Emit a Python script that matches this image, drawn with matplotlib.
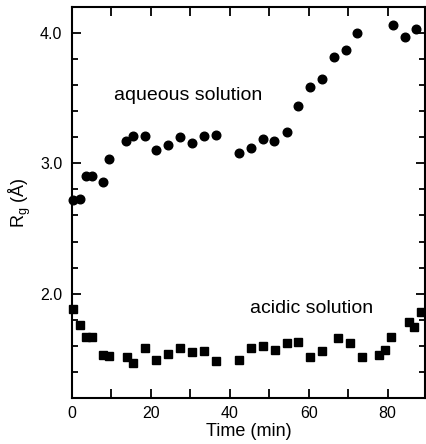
import numpy as np
from matplotlib import pyplot as plt
from matplotlib.ticker import MultipleLocator

plt.rcParams['font.family'] = ['Liberation Sans', 'DejaVu Sans']

# aqueous solution (circles)
aq_time = [0.3, 2.0, 3.5, 5.1, 7.9, 9.4, 13.8, 15.5, 18.5, 21.4, 24.4, 27.3, 30.5, 33.4, 36.4,
           42.4, 45.3, 48.3, 51.3, 54.4, 57.4, 60.3, 63.4, 66.4, 69.4, 72.3, 81.3, 84.3, 87.3]
aq_rg = [2.72, 2.73, 2.90, 2.90, 2.86, 3.03, 3.17, 3.21, 3.21, 3.10, 3.14, 3.20, 3.16, 3.21, 3.22,
         3.08, 3.12, 3.19, 3.17, 3.24, 3.44, 3.59, 3.65, 3.82, 3.87, 4.00, 4.06, 3.97, 4.03]

# acidic solution (squares)
ac_time = [0.3, 2.0, 3.5, 5.0, 7.9, 9.4, 14.0, 15.5, 18.5, 21.4, 24.4, 27.3, 30.5, 33.4, 36.4,
           42.4, 45.3, 48.4, 51.4, 54.4, 57.4, 60.3, 63.4, 67.4, 70.4, 73.4, 77.8, 79.3, 80.8,
           85.3, 86.8, 88.4]
ac_rg = [1.88, 1.76, 1.67, 1.67, 1.53, 1.52, 1.51, 1.47, 1.58, 1.49, 1.54, 1.58, 1.55, 1.56, 1.48,
         1.49, 1.58, 1.60, 1.57, 1.62, 1.63, 1.51, 1.56, 1.66, 1.62, 1.51, 1.53, 1.57, 1.67,
         1.78, 1.74, 1.86]

fig = plt.figure(figsize=(4.26, 4.44), dpi=100)
ax = fig.add_axes([0.169, 0.104, 0.829, 0.880])

ax.plot(aq_time, aq_rg, 'o', color='black', markersize=6.2, clip_on=False)
ax.plot(ac_time, ac_rg, 's', color='black', markersize=5.2, clip_on=False)

ax.text(29.4, 3.525, 'aqueous solution', fontsize=14, ha='center', va='center')
ax.text(60.7, 1.885, 'acidic solution', fontsize=14, ha='center', va='center')

ax.set_xlim(0, 89.5)
ax.set_ylim(1.2, 4.2)

ax.xaxis.set_major_locator(MultipleLocator(20))
ax.xaxis.set_minor_locator(MultipleLocator(10))
ax.yaxis.set_minor_locator(MultipleLocator(0.2))
ax.set_yticks([2.0, 3.0, 4.0])
ax.set_yticklabels(['2.0', '3.0', '4.0'])

ax.tick_params(which='both', direction='in', top=True, right=True, width=1.3, labelsize=11.5)
ax.tick_params(which='major', length=6.5)
ax.tick_params(axis='x', which='minor', length=6.5)
ax.tick_params(axis='y', which='minor', length=4.3)
ax.tick_params(axis='x', pad=6)
ax.tick_params(axis='y', pad=7)
for s in ax.spines.values():
    s.set_linewidth(1.5)

ax.set_xlabel('Time (min)', fontsize=13, labelpad=1.5)
ax.set_ylabel('R$_\\mathregular{g}$ (Å)', fontsize=13, labelpad=5)

fig.savefig('out.png', dpi=100)
